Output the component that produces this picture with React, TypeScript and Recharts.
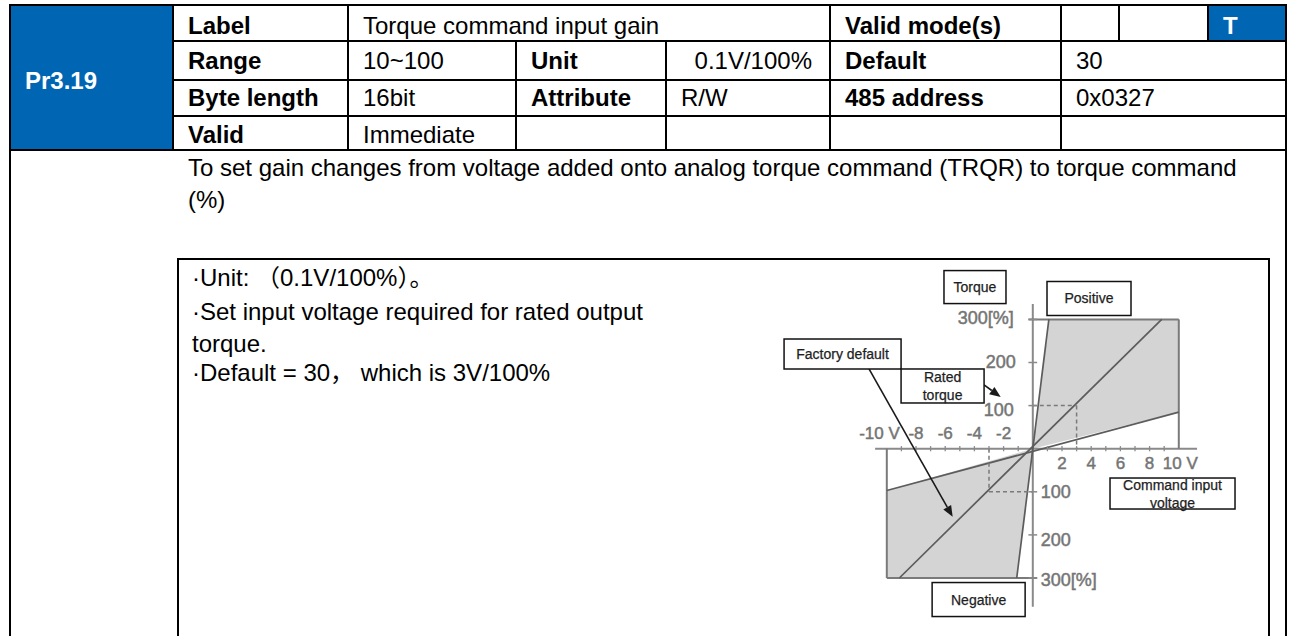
import React from 'react';
import { ComposedChart, Area, XAxis, YAxis, ReferenceLine, ReferenceDot } from 'recharts';

const FONT = "'Liberation Sans', Arial, 'Noto Sans CJK SC', sans-serif";
const BLUE = '#0066b3';

// envelope vertices: command voltage [V] -> torque band [low, high] in %
const voltage = [-10, -1.1, 0, 1.1, 10];
const negativeBand = [[-300, -97], [-300, -10.7], [0, 0], null, null];
const positiveBand = [null, null, [0, 0], [9.4, 300], [85, 300]];

// outline of the two gray envelopes, [V, %] pairs
const envelopeEdges = [
    [[-0.3, 300], [10, 300]],
    [[10, 0], [10, 300]],
    [[-10, -300], [0.3, -300]],
    [[-10, 0], [-10, -300]],
];

// gain lines through the origin: negative end, positive end
const steepLine = [[-1.1, -300], [1.1, 300]];
const factoryLine = [[-9.14, -300], [8.83, 300]];
const gentleLine = [[-10, -97], [10, 85]];

// rated torque guide
const ratedVoltage = 3;
const ratedTorque = 100;

const xTicks = [-10, -8, -6, -4, -2, 2, 4, 6, 8, 10];
const xTickLabels = ['-10 V', '-8', '-6', '-4', '-2', '2', '4', '6', '8', '10 V'];
const xMinorTicks = [-9, -8, -7, -6, -5, -4, -3, -2, -1, 1, 2, 3, 4, 5, 6, 7, 8, 9];
const yTicks = [300, 200, 100, -100, -200, -300];
const yTickLabels = ['300[%]', '200', '100', '100', '200', '300[%]'];

// callout boxes, anchored in chart units
const noteTexts = [['Torque'], ['Positive'], ['Factory default'], ['Rated', 'torque'], ['Command input', 'voltage'], ['Negative']];
const noteAnchors = [[-3.96, 375], [3.85, 348.5], [-13.03, 219.7], [-6.18, 145.5], [9.57, -104], [-3.71, -350]];
const noteSizes = [[62, 33], [84, 34], [117, 30], [83, 34], [125, 31], [93, 34]];

const factoryArrow = [[-11.22, 185], [-5.49, -158]];
const ratedArrow = [[-3.34, 148], [-2.2, 120]];

const chartData = voltage.map((v, i) => ({ v, neg: negativeBand[i], pos: positiveBand[i] }));

const seg = (p: number[][]) => [{ x: p[0][0], y: p[0][1] }, { x: p[1][0], y: p[1][1] }];

const Arrow = (p: any) => {
    const { x1, y1, x2, y2 } = p;
    const a = Math.atan2(y2 - y1, x2 - x1);
    const L = 11, W = 4.5;
    const bx = x2 - L * Math.cos(a), by = y2 - L * Math.sin(a);
    const pts = `${x2},${y2} ${bx - W * Math.sin(a)},${by + W * Math.cos(a)} ${bx + W * Math.sin(a)},${by - W * Math.cos(a)}`;
    return (
        <g>
            <line x1={x1} y1={y1} x2={bx} y2={by} stroke="#1a1a1a" strokeWidth={1.6} />
            <polygon points={pts} fill="#1a1a1a" />
        </g>
    );
};

const noteBox = (lines: string[], w: number, h: number) => (p: any) => (
    <g>
        <rect x={p.cx - w / 2} y={p.cy - h / 2} width={w} height={h} fill="#fff" stroke="#111" strokeWidth={1.5} />
        {lines.map((s, i) => (
            <text key={i} x={p.cx} y={p.cy + (i - (lines.length - 1) / 2) * 18} textAnchor="middle"
                dominantBaseline="central" fontSize={14} fill="#1e1e1e" stroke="#1e1e1e" strokeWidth={0.25} fontFamily={FONT}>{s}</text>
        ))}
    </g>
);

const tickText = (label: string, anchor: string, dx: number, dy: number, size: number) => (p: any) => (
    <text x={p.cx + dx} y={p.cy + dy} textAnchor={anchor} dominantBaseline="central"
        fontSize={size} fill="#727272" stroke="#7a7a7a" strokeWidth={0.5} fontFamily={FONT}>{label}</text>
);

// small nudges so the y labels sit where the scanned figure has them
const yLabelShift = [-1, 0, 4, 0, 5, 2];

function TorqueChart() {
    const edge = { stroke: '#7a7a7a', strokeWidth: 2, ifOverflow: 'visible' as const };
    const gain = { stroke: '#5c5c5c', strokeWidth: 1.7, ifOverflow: 'visible' as const };
    const dash = { stroke: '#7a7a7a', strokeWidth: 1.5, strokeDasharray: '4 3', ifOverflow: 'visible' as const };
    const axis = { stroke: '#8a8a8a', strokeWidth: 2, ifOverflow: 'visible' as const };
    return (
        <ComposedChart width={520} height={375} data={chartData} margin={{ top: 0, right: 0, bottom: 0, left: 0 }}>
            <XAxis type="number" dataKey="v" domain={[-19.507, 16.11]} allowDataOverflow hide />
            <YAxis type="number" domain={[-434.6, 435.5]} allowDataOverflow hide />
            <Area type="linear" dataKey="neg" fill="#d4d4d4" fillOpacity={1} stroke="none" isAnimationActive={false} />
            <Area type="linear" dataKey="pos" fill="#d4d4d4" fillOpacity={1} stroke="none" isAnimationActive={false} />

            {/* axes crossing at the origin */}
            <ReferenceLine segment={[{ x: -10.8, y: 0 }, { x: 11.25, y: 0 }]} {...axis} />
            <ReferenceLine segment={[{ x: 0, y: 336 }, { x: 0, y: -367 }]} {...axis} />

            {envelopeEdges.map((e, i) => <ReferenceLine key={'e' + i} segment={seg(e)} {...edge} />)}
            {[steepLine, factoryLine, gentleLine].map((l, i) => (
                <ReferenceLine key={'g' + i} segment={seg(l)} {...gain} />
            ))}

            <ReferenceLine segment={[{ x: 0, y: ratedTorque }, { x: ratedVoltage, y: ratedTorque }]} {...dash} />
            <ReferenceLine segment={[{ x: ratedVoltage, y: ratedTorque }, { x: ratedVoltage, y: 0 }]} {...dash} />
            <ReferenceLine segment={[{ x: -ratedVoltage, y: 0 }, { x: -ratedVoltage, y: -ratedTorque }]} {...dash} />
            <ReferenceLine segment={[{ x: -ratedVoltage, y: -ratedTorque }, { x: 0, y: -ratedTorque }]} {...dash} />

            {xMinorTicks.map((t) => (
                <ReferenceLine key={'xt' + t} segment={[{ x: t, y: -6 }, { x: t, y: 6 }]} stroke="#8a8a8a" strokeWidth={1.3} ifOverflow="visible" />
            ))}
            {yTicks.map((t) => (
                <ReferenceLine key={'yt' + t} segment={[{ x: -0.3, y: t }, { x: 0.3, y: t }]} stroke="#8a8a8a" strokeWidth={1.5} ifOverflow="visible" />
            ))}
            {xTicks.map((t, i) => (
                <ReferenceDot key={'xl' + t} x={t} y={0} r={1} ifOverflow="visible"
                    shape={t < 0 ? tickText(xTickLabels[i], t === -10 ? 'end' : 'middle', t === -10 ? 13 : 0, -15, 17)
                        : tickText(xTickLabels[i], t === 10 ? 'start' : 'middle', t === 10 ? -16 : 0, 15, 17)} />
            ))}
            {yTicks.map((t, i) => (
                <ReferenceDot key={'yl' + t} x={0} y={t} r={1} ifOverflow="visible"
                    shape={t > 0 ? tickText(yTickLabels[i], 'end', t === 200 ? -17 : -19, yLabelShift[i], 18)
                        : tickText(yTickLabels[i], 'start', 8, yLabelShift[i], 18)} />
            ))}

            {noteTexts.map((n, i) => (
                <ReferenceDot key={'n' + i} x={noteAnchors[i][0]} y={noteAnchors[i][1]} r={1} ifOverflow="visible"
                    shape={noteBox(n, noteSizes[i][0], noteSizes[i][1])} />
            ))}
            <ReferenceLine segment={seg(factoryArrow)} shape={Arrow} ifOverflow="visible" />
            <ReferenceLine segment={seg(ratedArrow)} shape={Arrow} ifOverflow="visible" />
        </ComposedChart>
    );
}

const COLS = [10, 173, 348, 516, 666, 830, 1061, 1119, 1208, 1286];
const ROWS = [5, 41, 80, 116, 150];
const ROW_SHIFT = [6, 0, 0, 4];

const cells: [number, number, number, number, string, boolean, boolean, boolean][] = [
    // c0, c1, r0, r1, text, bold, blue, right
    [0, 1, 0, 4, 'Pr3.19', true, true, false],
    [1, 2, 0, 1, 'Label', true, false, false],
    [2, 5, 0, 1, 'Torque command input gain', false, false, false],
    [5, 6, 0, 1, 'Valid mode(s)', true, false, false],
    [6, 7, 0, 1, '', false, false, false],
    [7, 8, 0, 1, '', false, false, false],
    [8, 9, 0, 1, 'T', true, true, false],
    [1, 2, 1, 2, 'Range', true, false, false],
    [2, 3, 1, 2, '10~100', false, false, false],
    [3, 4, 1, 2, 'Unit', true, false, false],
    [4, 5, 1, 2, '0.1V/100%', false, false, true],
    [5, 6, 1, 2, 'Default', true, false, false],
    [6, 9, 1, 2, '30', false, false, false],
    [1, 2, 2, 3, 'Byte length', true, false, false],
    [2, 3, 2, 3, '16bit', false, false, false],
    [3, 4, 2, 3, 'Attribute', true, false, false],
    [4, 5, 2, 3, 'R/W', false, false, false],
    [5, 6, 2, 3, '485 address', true, false, false],
    [6, 9, 2, 3, '0x0327', false, false, false],
    [1, 2, 3, 4, 'Valid', true, false, false],
    [2, 3, 3, 4, 'Immediate', false, false, false],
    [3, 4, 3, 4, '', false, false, false],
    [4, 5, 3, 4, '', false, false, false],
    [5, 6, 3, 4, '', false, false, false],
    [6, 9, 3, 4, '', false, false, false],
];

const noteLines = ['·Unit: （0.1V/100%）。', '·Set input voltage required for rated output', 'torque.', '·Default = 30， which is 3V/100%'];
const noteBaselines = [286, 320, 352, 381];

export default function App() {
    return (
        <div style={{ position: 'absolute', left: 0, top: 0, width: 1298, height: 636, overflow: 'hidden', background: '#fff', fontFamily: FONT, color: '#000' }}>
            {cells.map(([c0, c1, r0, r1, text, bold, blue, right], i) => {
                const x1 = COLS[c0], x2 = COLS[c1], y1 = ROWS[r0], y2 = ROWS[r1];
                return (
                    <div key={i} style={{
                        position: 'absolute', left: x1 - 1, top: y1 - 1, width: x2 - x1 + 2, height: y2 - y1 + 2,
                        border: '2px solid #000', boxSizing: 'border-box', background: blue ? BLUE : '#fff',
                        color: blue ? '#fff' : '#000', fontWeight: bold ? 700 : 400, fontSize: 24,
                        display: 'flex', alignItems: 'center', justifyContent: right ? 'flex-end' : 'flex-start',
                        paddingLeft: 14, paddingRight: 17, paddingTop: c0 === 0 ? 6 : ROW_SHIFT[r0], whiteSpace: 'nowrap',
                    }}>{text}</div>
                );
            })}

            <div style={{ position: 'absolute', left: 9, top: 149, width: 1278, height: 600, border: '2px solid #000', boxSizing: 'border-box' }} />
            <div style={{ position: 'absolute', left: 188, top: 152, fontSize: 24, lineHeight: '32px', whiteSpace: 'nowrap' }}>
                To set gain changes from voltage added onto analog torque command (TRQR) to torque command<br />(%)
            </div>

            <div style={{ position: 'absolute', left: 177, top: 258, width: 1093, height: 500, border: '2px solid #000', boxSizing: 'border-box' }} />
            {noteLines.map((s, i) => (
                <div key={i} style={{ position: 'absolute', left: 192, top: noteBaselines[i] - 24, fontSize: 24, lineHeight: '32px', whiteSpace: 'nowrap' }}>{s}</div>
            ))}

            <div style={{ position: 'absolute', left: 748, top: 261 }}>
                <TorqueChart />
            </div>
        </div>
    );
}
